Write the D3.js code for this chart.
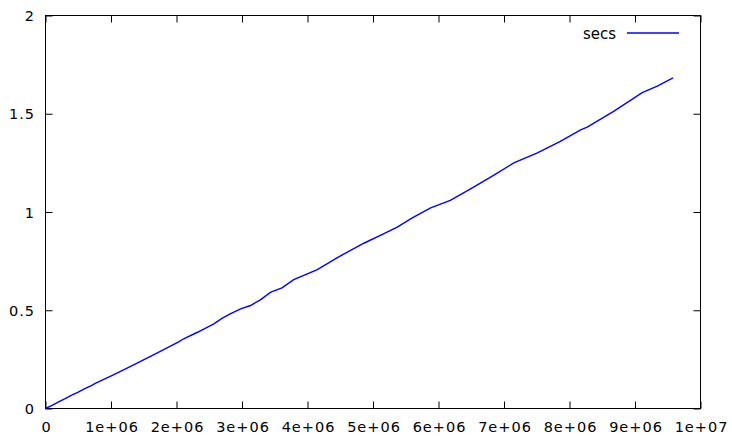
<!DOCTYPE html>
<html><head><meta charset="utf-8">
<script src="https://cdn.jsdelivr.net/npm/d3@7"></script>
<style>body{margin:0;background:#fff}svg{display:block}</style>
</head><body>
<script>
const xValues = [0, 0.1e6, 0.2e6, 0.3e6, 0.4e6, 0.5e6, 0.6e6, 0.7e6, 0.76e6, 1.02e6, 1.3e6, 1.58e6, 1.76e6, 2.04e6, 2.11e6, 2.32e6, 2.57e6, 2.7e6, 2.82e6, 2.98e6, 3.13e6, 3.28e6, 3.44e6, 3.61e6, 3.79e6, 4.15e6, 4.45e6, 4.86e6, 5.16e6, 5.37e6, 5.6e6, 5.88e6, 6.18e6, 6.49e6, 6.84e6, 7.15e6, 7.51e6, 7.86e6, 8.17e6, 8.27e6, 8.68e6, 9.11e6, 9.34e6, 9.58e6];
const secs = [0, 0.016, 0.034, 0.050, 0.068, 0.083, 0.101, 0.117, 0.128, 0.168, 0.214, 0.261, 0.292, 0.340, 0.355, 0.388, 0.431, 0.460, 0.482, 0.507, 0.524, 0.553, 0.592, 0.614, 0.656, 0.707, 0.767, 0.841, 0.889, 0.923, 0.970, 1.021, 1.059, 1.118, 1.186, 1.250, 1.301, 1.360, 1.418, 1.432, 1.513, 1.607, 1.640, 1.683];
const xTicks = [0, 1e6, 2e6, 3e6, 4e6, 5e6, 6e6, 7e6, 8e6, 9e6, 1e7];
const xTickLabels = ["0", "1e+06", "2e+06", "3e+06", "4e+06", "5e+06", "6e+06", "7e+06", "8e+06", "9e+06", "1e+07"];
const yTicks = [0, 0.5, 1, 1.5, 2];
const yTickLabels = ["0", "0.5", "1", "1.5", "2"];
const seriesName = "secs";

const W = 732, H = 436;
const L = 45.5, R = 700.5, T = 15.5, B = 408.5;
const svg = d3.select("body").append("svg").attr("width", W).attr("height", H);
const x = d3.scaleLinear().domain([0, 1e7]).range([L, R]);
const y = d3.scaleLinear().domain([0, 2]).range([B, T]);
const tl = 7;
const FONT = "'DejaVu Sans', sans-serif";

const gb = svg.append("g").attr("transform", `translate(0,${B})`)
  .call(d3.axisBottom(x).tickValues(xTicks).tickSize(-tl)
    .tickFormat((d, i) => xTickLabels[i]));
const gt = svg.append("g").attr("transform", `translate(0,${T})`)
  .call(d3.axisTop(x).tickValues(xTicks).tickSize(-tl).tickFormat(""));
const gl = svg.append("g").attr("transform", `translate(${L},0)`)
  .call(d3.axisLeft(y).tickValues(yTicks).tickSize(-tl)
    .tickFormat((d, i) => yTickLabels[i]));
const gr = svg.append("g").attr("transform", `translate(${R},0)`)
  .call(d3.axisRight(y).tickValues(yTicks).tickSize(-tl).tickFormat(""));
[gb, gt, gl, gr].forEach(g => {
  g.attr("font-size", null).attr("font-family", null);
  g.select(".domain").remove();
  g.selectAll("line").attr("stroke", "#000").attr("stroke-width", 1);
  g.selectAll("text").style("font-family", FONT).style("font-size", "14.5px")
    .style("letter-spacing", "1px").style("fill", "#000");
});
gb.selectAll("text").attr("dy", null).attr("y", 23.9).attr("dx", 0.5);
gl.selectAll("text").attr("x", -10.5).attr("dy", "0.36em");

svg.append("rect").attr("x", L).attr("y", T).attr("width", R - L).attr("height", B - T)
  .attr("fill", "none").attr("stroke", "#000").attr("stroke-width", 1);

const line = d3.line().x((d, i) => x(xValues[i])).y(d => y(d));
svg.append("path").datum(secs).attr("d", line)
  .attr("fill", "none").attr("stroke", "#0000ff").attr("stroke-width", 1.4);

svg.append("text").attr("x", 616).attr("y", 39.3).attr("text-anchor", "end")
  .style("font-family", FONT).style("font-size", "15px").style("fill", "#000").text(seriesName);
svg.append("line").attr("x1", 627).attr("x2", 679).attr("y1", 33).attr("y2", 33)
  .attr("stroke", "#0000ff").attr("stroke-width", 1.4);
</script>
</body></html>
